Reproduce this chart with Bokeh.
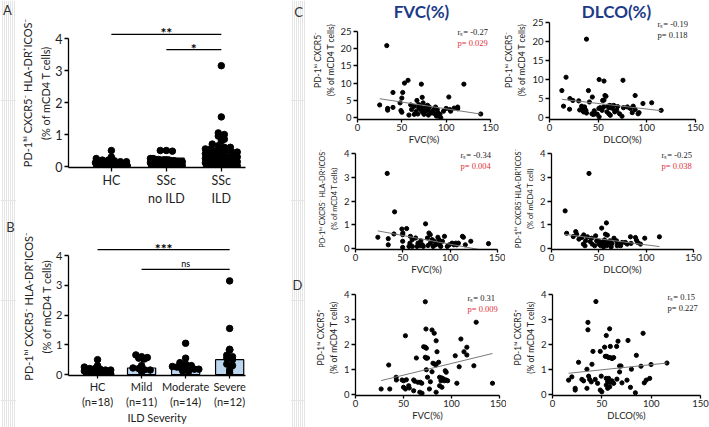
import numpy as np
from bokeh.plotting import figure
from bokeh.layouts import row, column
from bokeh.models import Label, Range1d, FixedTicker, Whisker, TeeHead, ColumnDataSource
from bokeh.embed import file_html
from bokeh.resources import INLINE

# ------------------------------------------------------------------ data
A_LABELS = ["HC", "SSc\nno ILD", "SSc\nILD"]
A_HC = [0.5, 0.3, 0.25, 0.2, 0.2, 0.18, 0.15, 0.15, 0.12, 0.12, 0.1, 0.1, 0.08, 0.08, 0.05, 0.05, 0.03, 0.02]
A_NOILD = [0.5, 0.5, 0.48, 0.25, 0.25, 0.22, 0.22, 0.2, 0.2, 0.2, 0.18, 0.18, 0.18, 0.15, 0.15, 0.15,
           0.12, 0.12, 0.1, 0.1, 0.08, 0.08, 0.05, 0.05, 0.03]
A_ILD = [3.15, 1.55, 1.05, 1.0, 0.95, 0.85, 0.8, 0.7, 0.65, 0.6, 0.6, 0.55, 0.55, 0.5, 0.5, 0.5, 0.45, 0.45,
         0.4, 0.4, 0.4, 0.35, 0.35, 0.35, 0.3, 0.3, 0.3, 0.3, 0.25, 0.25, 0.25, 0.25, 0.2, 0.2, 0.2, 0.2, 0.2,
         0.15, 0.15, 0.15, 0.15, 0.12, 0.12, 0.1, 0.1, 0.1, 0.08, 0.08, 0.05, 0.05, 0.03, 0.02]
A_MEDIAN = [0.13, 0.26, 0.33]
A_LOW = [0.07, 0.15, 0.15]
A_HIGH = [0.2, 0.3, 0.6]
A_SIG = [(0, 2, 4.13, "**"), (1, 2, 3.65, "*")]

B_LABELS = ["HC\n(n=18)", "Mild\n(n=11)", "Moderate\n(n=14)", "Severe\n(n=12)"]
B_HC = A_HC
B_MILD = [0.66, 0.6, 0.57, 0.55, 0.52, 0.3, 0.22, 0.2, 0.16, 0.15, 0.1]
B_MOD = [1.05, 0.55, 0.4, 0.35, 0.3, 0.27, 0.25, 0.22, 0.2, 0.2, 0.18, 0.18, 0.12, 0.1]
B_SEV = [3.15, 1.55, 0.85, 0.82, 0.65, 0.6, 0.55, 0.5, 0.35, 0.3, 0.15, 0.05]
B_MEDIAN = [0.11, 0.22, 0.25, 0.5]
B_LOW = [0.07, 0.15, 0.18, 0.3]
B_HIGH = [0.18, 0.57, 0.37, 0.83]
B_SIG = [(0, 3, 4.2, "***"), (1, 3, 3.54, "ns")]

C1_X = [33, 53, 57, 72, 120, 40, 51, 50, 73, 103, 25, 34, 34, 40, 48, 49, 50, 60, 64, 69, 67, 74, 78, 80, 84,
        86, 90, 93, 94, 58, 68, 75, 80, 89, 97, 100, 104, 109, 113, 113, 139, 69, 71, 73, 77, 81, 82, 85, 87,
        91, 91, 71, 61, 64, 66, 74, 79, 88, 105]
C1_Y = [20.8, 10.0, 10.8, 9.7, 9.7, 7.3, 7.3, 5.7, 5.9, 6.0, 3.7, 2.7, 2.2, 3.0, 4.3, 2.1, 1.6, 3.7, 3.3, 3.8,
        5.0, 4.3, 3.3, 2.4, 1.4, 2.4, 2.4, 1.0, 0.0, 0.8, 1.1, 1.0, 0.8, 0.5, 1.9, 2.7, 2.4, 2.8, 3.1, 2.6,
        1.1, 2.9, 2.4, 1.7, 1.9, 3.1, 1.4, 1.9, 1.2, 1.4, 0.5, 3.3, 2.4, 1.0, 1.8, 2.7, 3.6, 3.1, 1.9]
C1_FIT = (6.47, -0.0388)
C1_STAT = ("rₛ= -0.27", "p= 0.029", True)

C2_X = [38, 17, 51, 56, 75.5, 12.7, 40, 21, 24, 30, 14.4, 20.6, 33, 34, 35, 34, 37.4, 41, 44, 43.6, 45, 47, 51,
        50.7, 52, 54, 55.6, 54.6, 57, 58, 56, 60, 61, 62, 63, 64, 59, 61, 62.5, 65, 67, 69, 72, 74.5, 76, 80,
        83, 86, 88, 91, 88, 96, 105, 114.7, 92, 85, 31, 36, 38, 46, 49, 66, 70]
C2_Y = [20.6, 10.6, 10.0, 9.6, 9.8, 7.1, 7.1, 5.0, 4.5, 4.4, 3.0, 2.2, 3.0, 2.4, 1.5, 1.9, 1.9, 4.1, 5.4, 1.0,
        0.8, 1.0, 0.2, 2.4, 2.6, 1.9, 2.8, 4.5, 5.8, 5.6, 4.6, 3.0, 2.6, 3.2, 2.6, 3.0, 1.5, 1.0, 0.6, 2.4,
        1.5, 1.9, 1.0, 0.35, 2.6, 2.8, 2.4, 3.0, 2.1, 1.0, 5.8, 3.7, 3.9, 1.9, 1.3, 1.3, 2.0, 2.8, 1.2, 1.8,
        0.9, 3.2, 2.9]
C2_FIT = (5.18, -0.0294)
C2_STAT = ("rₛ= -0.19", "p= 0.118", False)

C3_X = [33.5, 41.3, 23.6, 34.6, 34.6, 40.6, 49, 54, 50, 49.8, 58, 49.8, 49.8, 57.5, 60, 63.5, 66, 69, 70.6, 74,
        76, 77.6, 79, 81, 83, 84.7, 86.5, 89, 90, 91.8, 94, 97, 99, 102, 104, 106, 108.7, 113, 114, 121.8,
        140.5, 65, 68, 71.6, 76.6, 79, 82, 88, 60, 56.5, 87, 107, 116]
C3_Y = [3.17, 1.54, 0.46, 0.40, 0.14, 0.60, 0.81, 0.83, 0.64, 0.57, 0.50, 0.03, 0.29, 0.21, 0.36, 0.43, 0.21,
        0.31, 0.14, 1.03, 0.43, 0.64, 0.57, 0.36, 0.29, 0.14, 0.21, 0.14, 0.07, 0.29, 0.50, 0.07, 0.14, 0.21,
        0.14, 0.21, 0.21, 0.50, 0.46, 0.29, 0.19, 0.07, 0.10, 0.07, 0.11, 0.21, 0.07, 0.36, 0.07, 0.07, 0.46,
        0.14, 0.14]
C3_FIT = (0.905, -0.0074)
C3_STAT = ("rₛ= -0.34", "p= 0.004", True)

C4_X = [39.6, 14.4, 58, 53, 16, 25.6, 26.6, 23, 29, 32, 34, 36, 38, 42.4, 46.6, 33.6, 35.4, 43, 45.6, 50, 52,
        53.6, 57, 58, 59.6, 60.6, 61.7, 57, 59, 62.4, 64, 66, 68.7, 73, 74.7, 78, 80, 83.4, 84, 88.7, 89.7,
        91, 94, 98.5, 114, 40.7, 47.7, 69.4, 55, 63, 50, 70, 56]
C4_Y = [3.17, 1.58, 1.07, 0.85, 0.63, 0.70, 0.59, 0.49, 0.38, 0.45, 0.56, 0.31, 0.48, 0.42, 0.52, 0.17, 0.10,
        0.17, 0.10, 0.17, 0.10, 0.24, 0.17, 0.10, 0.24, 0.14, 0.31, 0.59, 0.55, 0.10, 0.20, 0.42, 0.31, 0.10,
        0.24, 0.24, 0.17, 0.48, 0.20, 0.45, 0.34, 0.24, 0.17, 0.42, 0.48, 0.28, 0.31, 0.10, 0.05, 0.05, 0.30,
        0.20, 0.35]
C4_FIT = (0.659, -0.00521)
C4_STAT = ("rₛ= -0.25", "p= 0.038", True)

D1_X = [72.7, 125.7, 52, 73.4, 79.7, 82, 71, 72.7, 73.8, 84, 109.8, 113, 116, 116, 103.9, 84.9, 63.4, 72.7,
        73.8, 75, 80.7, 82.4, 83.8, 86.6, 34.6, 123.3, 108, 73.8, 93.5, 94.5, 42.3, 42.6, 48.5, 50.2, 53,
        60.6, 61.7, 65, 67.5, 69, 75, 78, 79.7, 87.6, 90, 91.8, 89, 92.5, 94.5, 96, 87.6, 90, 105.6, 142.7,
        26.7, 35.7, 50, 52, 56, 60.6, 67, 69.3, 77, 84, 55.4]
D1_Y = [3.69, 2.87, 2.33, 2.6, 2.56, 2.43, 1.89, 1.87, 1.83, 2.13, 2.2, 1.69, 1.87, 1.56, 1.53, 1.69, 1.44,
        1.47, 1.43, 1.44, 1.23, 1.2, 1.16, 1.27, 1.16, 1.13, 1.09, 0.97, 0.93, 0.87, 0.67, 0.56, 0.56, 0.53,
        0.57, 0.56, 0.51, 0.47, 0.47, 0.43, 0.67, 0.49, 0.89, 0.67, 0.64, 0.6, 0.53, 0.53, 0.56, 0.53, 0.33,
        0.27, 0.43, 0.43, 0.2, 0.2, 0.27, 0.2, 0.24, 0.13, 0.07, 0.03, 0.2, 0.07, 0.33]
D1_FIT = (0.287, 0.00935)
D1_STAT = ("rₛ= 0.31", "p= 0.009", True)

D2_X = [44, 35.9, 35.9, 57.9, 54.5, 76.5, 66.4, 91.8, 41, 48.4, 52.8, 58.6, 65, 53.5, 55, 56.9, 58.6, 60.3, 62,
        85, 26.4, 40, 68, 69.4, 116, 99.9, 89.7, 34.9, 80, 68, 16.3, 19.6, 29.8, 31.5, 36.6, 37.6, 39.3, 43.3,
        45.7, 49.4, 54.5, 56.9, 55.9, 58.6, 60.3, 62, 65.3, 70.4, 75.5, 54.5, 58, 79, 84, 93, 95, 98.5, 23,
        23, 34.9, 48.4, 50, 55.9]
D2_Y = [3.73, 2.89, 2.59, 2.63, 2.36, 2.16, 2.13, 2.45, 1.72, 1.72, 1.89, 1.92, 1.92, 1.52, 1.52, 1.47, 1.47,
        1.43, 1.47, 1.56, 1.28, 1.2, 1.13, 1.13, 1.25, 1.19, 1.12, 1.0, 1.0, 0.89, 0.56, 0.69, 0.59, 0.53,
        0.72, 0.59, 0.49, 0.59, 0.43, 0.72, 0.63, 0.63, 0.49, 0.47, 0.53, 0.43, 0.6, 0.45, 0.56, 0.36, 0.29,
        0.27, 0.05, 0.45, 0.56, 0.63, 0.23, 0.16, 0.23, 0.16, 0.09, 0.23]
D2_FIT = (0.77, 0.00414)
D2_STAT = ("rₛ= 0.15", "p= 0.227", False)

Y_CX5N = "PD-1ʰⁱ CXCR5⁻\n(% of mCD4 T cells)"
Y_HLA_L = "PD-1ʰⁱ CXCR5⁻ HLA-DR⁺ICOS⁻\n(% of mCD4 T cells)"
Y_HLA_R = "PD-1ʰⁱ CXCR5⁻HLA-DR⁺ICOS⁻\n(% of mCD4 T cell)"
Y_CX5P = "PD-1ʰⁱ CXCR5⁺\n(% of mCD4 T cells)"

# ------------------------------------------------------------------ style
FONT = "Lato"
STAT_FONT = "Liberation Serif"
TXT = "#222222"
RED = "#e0303a"
NAVY = "#1b3a87"
BAR_FILL = "#bcd6ef"
H = 427

GEOM = {}


def make_fig(x0, y0, w, h, fl, fr, ft, fb, xr, ycal):
    v1, p1, v2, p2 = ycal
    s = (p1 - p2) / (v2 - v1)
    yr = (v1 - (fb - p1) / s, v1 + (p1 - ft) / s)
    p = figure(width=w, height=h, x_range=Range1d(*xr), y_range=Range1d(*yr),
               min_border_left=int(round(fl - x0)), min_border_right=int(round(x0 + w - fr)),
               min_border_top=int(round(ft - y0)), min_border_bottom=int(round(y0 + h - fb)),
               toolbar_location=None, output_backend="svg", outline_line_color=None,
               background_fill_color="white", border_fill_color="white")
    p.title = None
    p.xgrid.visible = False
    p.ygrid.visible = False
    GEOM[p.id] = (fl, fr, ft, fb, xr, yr)
    return p


def at(p, X, Y):
    fl, fr, ft, fb, xr, yr = GEOM[p.id]
    x = xr[0] + (X - fl) / (fr - fl) * (xr[1] - xr[0])
    y = yr[0] + (fb - Y) / (fb - ft) * (yr[1] - yr[0])
    return x, y


def text_strip(x0, w, items):
    p = figure(width=w, height=H, x_range=Range1d(x0, x0 + w), y_range=Range1d(H, 0), min_border=0,
               toolbar_location=None, output_backend="svg", outline_line_color=None,
               x_axis_location=None, y_axis_location=None,
               background_fill_color="white", border_fill_color="white")
    p.title = None
    for X, Y, t in items:
        p.add_layout(Label(x=X, y=Y, text=t, text_font=FONT, text_font_size="13px", text_color="#333333",
                           text_align="center", text_baseline="middle"))
    return p


def style_axes(p, tick_fs, xlab_fs, ylab_fs, xticks, yticks, xbounds, ybounds, ylab_standoff,
               xtick_out=4, xstandoff=2, ylab_lh=1.3):
    for ax in (p.xaxis[0], p.yaxis[0]):
        ax.axis_line_color = "black"
        ax.axis_line_width = 1.3
        ax.major_tick_line_color = "black"
        ax.major_tick_line_width = 1.3
        ax.major_tick_out = 4
        ax.major_tick_in = 0
        ax.minor_tick_line_color = None
        ax.major_label_text_font = FONT
        ax.major_label_text_font_size = tick_fs
        ax.major_label_text_color = TXT
        ax.major_label_standoff = 2
        ax.axis_label_text_font = FONT
        ax.axis_label_text_font_style = "normal"
        ax.axis_label_text_color = TXT
    p.xaxis[0].major_tick_out = xtick_out
    p.xaxis[0].major_label_standoff = xstandoff
    p.xaxis[0].axis_label_text_font_size = xlab_fs
    p.yaxis[0].axis_label_text_font_size = ylab_fs
    p.yaxis[0].axis_label_text_line_height = ylab_lh
    p.yaxis[0].axis_label_standoff = ylab_standoff
    p.xaxis[0].axis_label_standoff = 0
    p.xaxis[0].ticker = FixedTicker(ticks=xticks)
    p.yaxis[0].ticker = FixedTicker(ticks=yticks)
    if xbounds is not None:
        p.xaxis[0].bounds = xbounds
    if ybounds is not None:
        p.yaxis[0].bounds = ybounds


def swarm(vals, ybin, xstep, maxw):
    vals = np.asarray(vals, float)
    off = np.zeros(len(vals))
    keys = np.floor(vals / ybin).astype(int)
    for k in np.unique(keys):
        idx = np.where(keys == k)[0]
        n = len(idx)
        step = xstep if (n - 1) * xstep <= maxw else maxw / max(n - 1, 1)
        off[idx] = (np.arange(n) - (n - 1) / 2) * step
    return off


def bar_panel(p, groups, medians, lows, highs, sigs, labels, ylabel, xlabel, tick_fs, lab_fs, bar_w,
              ybin, xstep, maxw, xtick_out, xstandoff):
    n = len(groups)
    xs = list(range(n))
    p.vbar(x=xs, top=medians, width=bar_w, fill_color=BAR_FILL, line_color="black", line_width=1.2)
    for i, vals in enumerate(groups):
        off = swarm(vals, ybin, xstep, maxw)
        p.scatter(i + off, vals, size=6.5, color="black")
    src = ColumnDataSource(dict(x=xs, lo=lows, hi=highs))
    p.add_layout(Whisker(base="x", lower="lo", upper="hi", source=src, line_color="black", line_width=1.2,
                         upper_head=TeeHead(size=8, line_width=1.2, line_color="black"),
                         lower_head=TeeHead(size=8, line_width=1.2, line_color="black")))
    fl, fr, ft, fb, xr, yr = GEOM[p.id]
    per_px = (yr[1] - yr[0]) / (fb - ft)
    for a, b, yv, t in sigs:
        p.segment(x0=[a], y0=[yv], x1=[b], y1=[yv], line_color="black", line_width=1.2)
        big = t != "ns"
        p.add_layout(Label(x=(a + b) / 2, y=yv + (1.5 if big else 6) * per_px, text=t, text_font=FONT,
                           text_font_size="14px" if big else "9px",
                           text_font_style="bold" if big else "normal",
                           text_color="black", text_align="center", text_baseline="middle"))
    style_axes(p, tick_fs, lab_fs, "11px", xs, [0, 1, 2, 3, 4], None, (yr[0], 4), 0,
               xtick_out=xtick_out, xstandoff=xstandoff, ylab_lh=1.4)
    p.xaxis[0].major_label_overrides = {i: lab for i, lab in enumerate(labels)}
    p.yaxis[0].axis_label = ylabel
    if xlabel:
        p.xaxis[0].axis_label = xlabel


def scatter_panel(p, xs, ys, fit, stat, xlabel, ylabel, ylab_fs, yticks, stat_X, stat_Y1, stat_Y2,
                  ylab_standoff):
    p.scatter(xs, ys, size=4.2, color="black")
    x0, x1 = min(xs), max(xs)
    b0, b1 = fit
    p.line([x0, x1], [b0 + b1 * x0, b0 + b1 * x1], line_color="#7a7a7a", line_width=1.0)
    fl, fr, ft, fb, xr, yr = GEOM[p.id]
    style_axes(p, "9.5px", "9.5px", ylab_fs, [0, 50, 100, 150], yticks, (0, 150),
               (yr[0], yticks[-1]), ylab_standoff, xtick_out=3, xstandoff=1, ylab_lh=1.3)
    p.xaxis[0].axis_label = xlabel
    p.yaxis[0].axis_label = ylabel
    r_txt, p_txt, sig = stat
    xa, ya = at(p, stat_X, stat_Y1)
    _, yb = at(p, stat_X, stat_Y2)
    p.add_layout(Label(x=xa, y=ya, text=r_txt, text_font=STAT_FONT, text_font_size="8.5px",
                       text_color=TXT, text_baseline="middle"))
    p.add_layout(Label(x=xa, y=yb, text=p_txt, text_font=STAT_FONT, text_font_size="8.5px",
                       text_color=RED if sig else TXT, text_baseline="middle"))


def heading(p, X, Y, t):
    x, y = at(p, X, Y)
    p.add_layout(Label(x=x, y=y, text=t, text_font=FONT, text_font_size="17px", text_font_style="bold",
                       text_color=NAVY, text_align="center", text_baseline="middle"))


# ------------------------------------------------------------------ panel A
pA = make_fig(16, 0, 274, 211, 68, 245, 18, 167, (-0.78, 2.44), (0, 166, 4, 38))
bar_panel(pA, [A_HC, A_NOILD, A_ILD], A_MEDIAN, A_LOW, A_HIGH, A_SIG, A_LABELS, Y_HLA_L, None,
          "12.5px", "12px", 0.65, 0.14, 0.11, 0.58, 4, 1)

# ------------------------------------------------------------------ panel B
pB = make_fig(16, 211, 274, 216, 68, 263, 237, 378, (-0.66, 3.36), (0, 377, 4, 255.5))
bar_panel(pB, [B_HC, B_MILD, B_MOD, B_SEV], B_MEDIAN, B_LOW, B_HIGH, B_SIG, B_LABELS, Y_HLA_L,
          "ILD Severity", "11px", "11px", 0.64, 0.14, 0.13, 0.6, 3, 1)

# ------------------------------------------------------------------ panels C / D
pC1 = make_fig(305, 0, 195, 147, 357, 490, 0, 120, (0, 150), (0, 118.3, 25, 30.8))
scatter_panel(pC1, C1_X, C1_Y, C1_FIT, C1_STAT, "FVC(%)", Y_CX5N, "8.5px", [0, 5, 10, 15, 20, 25],
              457, 32, 43, 1)
heading(pC1, 421, 11, "FVC(%)")

pC2 = make_fig(500, 0, 209, 147, 549, 695, 0, 119, (0, 150), (0, 117.1, 25, 21.9))
scatter_panel(pC2, C2_X, C2_Y, C2_FIT, C2_STAT, "DLCO(%)", Y_CX5N, "8.5px", [0, 5, 10, 15, 20, 25],
              657, 23, 34, 2)
heading(pC2, 616, 11, "DLCO(%)")

pC3 = make_fig(305, 147, 200, 132, 355, 497, 147, 249, (0, 150), (0, 247.6, 4, 153.4))
scatter_panel(pC3, C3_X, C3_Y, C3_FIT, C3_STAT, "FVC(%)", Y_HLA_L, "7.3px", [0, 1, 2, 3, 4],
              460, 154, 165, 2)

pC4 = make_fig(505, 147, 204, 132, 551, 693, 147, 249, (0, 150), (0, 247.6, 4, 153.4))
scatter_panel(pC4, C4_X, C4_Y, C4_FIT, C4_STAT, "DLCO(%)", Y_HLA_R, "7.5px", [0, 1, 2, 3, 4],
              661, 154, 165, 2)

pD1 = make_fig(305, 279, 201, 148, 355, 499, 279, 395, (0, 150), (0, 393.5, 4, 293.5))
scatter_panel(pD1, D1_X, D1_Y, D1_FIT, D1_STAT, "FVC(%)", Y_CX5P, "8.5px", [0, 1, 2, 3, 4],
              467, 297, 308, 2)

pD2 = make_fig(506, 279, 203, 148, 552, 700, 279, 396, (0, 150), (0, 394.5, 4, 294.5))
scatter_panel(pD2, D2_X, D2_Y, D2_FIT, D2_STAT, "DLCO(%)", Y_CX5P, "8.5px", [0, 1, 2, 3, 4],
              667, 297, 308, 2)

stripL = text_strip(0, 16, [(7, 9, "A"), (10, 226, "B")])
stripM = text_strip(290, 15, [(298, 11, "C"), (297, 284, "D")])

left = column(pA, pB, spacing=0)
right = column(row(pC1, pC2, spacing=0), row(pC3, pC4, spacing=0), row(pD1, pD2, spacing=0), spacing=0)
layout = row(stripL, left, stripM, right, spacing=0)

open("out.html", "w").write(file_html(layout, INLINE))
